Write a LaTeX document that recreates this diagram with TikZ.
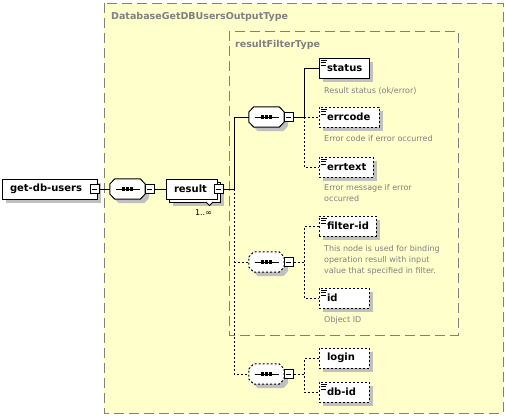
\documentclass[tikz,border=0pt]{standalone}
\usepackage{fontspec}
\setmainfont{DejaVu Sans}
\usetikzlibrary{calc,shadows}
\definecolor{boxyellow}{RGB}{255,255,204}
\definecolor{framegrey}{RGB}{128,128,128}
\definecolor{shadegrey}{RGB}{192,192,192}
\def\propicon(#1){\draw[line width=0.8pt] ($(#1.north west)+(2,2.5)$) -- ++(6,0) ($(#1.north west)+(2,5)$) -- ++(5,0) ($(#1.north west)+(2,7.5)$) -- ++(5,0);}
\def\octpath(#1)(#2){($(#1.west)+(#2)+(0,-5)$) -- ($(#1.north west)+(#2)+(5,0)$) -- ($(#1.north east)+(#2)+(-5,0)$) -- ($(#1.east)+(#2)+(0,-5)$) -- ($(#1.east)+(#2)+(0,5)$) -- ($(#1.south east)+(#2)+(-5,0)$) -- ($(#1.south west)+(#2)+(5,0)$) -- ($(#1.west)+(#2)+(0,5)$) -- cycle}
\def\seqshape[#1](#2){
	\fill[shadegrey] \octpath(#2)(4,4);
	\draw[line width=1pt, fill=white, #1] \octpath(#2)(0,0);
	\draw[line width=0.8pt] ($(#2.center)+(-12,0)$) -- ($(#2.center)+(12,0)$);
	\foreach \dx in {-4,0,4} \fill ($(#2.center)+(\dx,0)$) +(-1.6,-1.6) rectangle +(1.6,1.6);
}
\tikzset{
	shade/.style={drop shadow={shadow xshift=4pt, shadow yshift=-4pt, fill=shadegrey, opacity=1}},
	elembase/.style={draw, fill=white, line width=1pt, minimum height=20pt, inner xsep=8pt, inner ysep=0pt, text width=#1, align=left, font=\fontsize{10}{12}\selectfont\bfseries},
	elem/.style={elembase=#1, shade},
	optelem/.style={elem=#1, dash pattern=on 2pt off 2pt},
	seqanchor/.style={minimum width=35pt, minimum height=20pt, inner sep=0pt},
	minus/.style={draw, fill=white, solid, line width=0.8pt, minimum size=9pt, inner sep=0pt,
		path picture={\draw[solid, line width=0.8pt] ([xshift=2pt]path picture bounding box.west) -- ([xshift=-2pt]path picture bounding box.east);}},
	conn/.style={line width=0.8pt},
	optconn/.style={conn, dash pattern=on 2pt off 2pt},
	typebox/.style={draw=framegrey, line width=1pt, dash pattern=on 10pt off 5pt},
	typetitle/.style={anchor=base west, inner sep=0pt, text=framegrey, font=\fontsize{9.5}{11}\selectfont\bfseries},
	desc/.style={anchor=base west, inner sep=0pt, align=left, text=framegrey, font=\fontsize{8}{10.8}\selectfont},
}
\begin{document}
\begin{tikzpicture}[x=1pt, y=-1pt]
	%%%%% START %%%%%
	\useasboundingbox (0,0) rectangle (505,415);
	
	\draw[typebox, fill=boxyellow] (104,3) rectangle (503,413);
	\node[typetitle] (outertitle) at (111,19.5) {DatabaseGetDBUsersOutputType};
	\draw[typebox] (229,31) rectangle (458,335);
	\node[typetitle] (innertitle) at (235,47.3) {resultFilterType};
	
	% root element and first sequence
	\node[elem=79pt] (dbusers) at (49.5,189) {\mbox{get-db-users}};
	\node[minus] (m0) at ($(dbusers.east)+(-3,0)$) {};
	\node[seqanchor] (s1) at (127.5,189) {};
	\seqshape[solid](s1)
	\node[minus] (m1) at ($(s1.east)+(4.5,0)$) {};
	
	% result, 1..unbounded
	\node[elem=35pt] (resultbk) at (194.5,192) {\phantom{result}};
	\node[elembase=35pt] (result) at (191.5,189) {result};
	\node[minus] (m2) at (218.5,189) {};
	\draw[line width=0.8pt, fill=white] (206,202) -- (209.5,205.5) -- (213,202);
	\node[anchor=base, inner sep=0pt, font=\fontsize{8}{10}\selectfont] (resultcard) at (203.5,215) {1..∞};
	
	% compositors inside resultFilterType and below
	\node[seqanchor] (s2) at (266.5,117) {};
	\seqshape[solid](s2)
	\node[minus] (m3) at ($(s2.east)+(4.5,0)$) {};
	\node[seqanchor] (s3) at (266.5,262) {};
	\seqshape[dash pattern=on 2pt off 2pt](s3)
	\node[minus] (m4) at ($(s3.east)+(4.5,0)$) {};
	\node[seqanchor] (s4) at (266.5,374) {};
	\seqshape[dash pattern=on 2pt off 2pt](s4)
	\node[minus] (m5) at ($(s4.east)+(4.5,0)$) {};
	
	% child elements
	\node[elem=34pt] (status) at (344,68) {status};
	\propicon(status)
	\node[desc] (statusdesc) at (324,93) {Result status (ok/error)};
	
	\node[optelem=44pt] (errcode) at (349,117) {errcode};
	\propicon(errcode)
	\node[desc] (errcodedesc) at (324,141.5) {Error code if error occurred};
	
	\node[optelem=38pt] (errtext) at (346,167) {errtext};
	\propicon(errtext)
	\node[desc] (errtextdesc) at (324,201) {Error message if error\\occurred};
	
	\node[optelem=41pt] (filterid) at (347.5,226) {\mbox{filter-id}};
	\propicon(filterid)
	\node[desc] (filteriddesc) at (324,273) {This node is used for binding\\operation resull with input\\value that specified in filter.};
	
	\node[optelem=34pt] (id) at (344,298) {id};
	\propicon(id)
	\node[desc] (iddesc) at (324,322) {Object ID};
	
	\node[optelem=34pt] (login) at (344,358) {login};
	\node[optelem=34pt] (dbid) at (344,392) {\mbox{db-id}};
	\propicon(dbid)
	
	% connectors
	\coordinate (trunk) at (234,189);
	\coordinate (b1) at (304,117);
	\coordinate (b2) at (304,262);
	\coordinate (b3) at (304,374);
	
	\draw[conn] (m0.east) -- (s1.west);
	\draw[conn] (m1.east) -- (result.west);
	\draw[conn] (m2.east) -- (trunk) |- (s2.west);
	\draw[optconn] (trunk) |- (s4.west);
	\draw[optconn] (trunk |- s3.west) -- (s3.west);
	
	\draw[conn] (m3.east) -- (b1) |- (status.west);
	\draw[optconn] (b1) -- (errcode.west);
	\draw[optconn] (b1) |- (errtext.west);
	
	\draw[optconn] (m4.east) -- (b2);
	\draw[optconn] (filterid.west) -| (b2) |- (id.west);
	
	\draw[optconn] (m5.east) -- (b3);
	\draw[optconn] (login.west) -| (b3) |- (dbid.west);
	
	%%%%% END %%%%%
\end{tikzpicture}
\end{document}
